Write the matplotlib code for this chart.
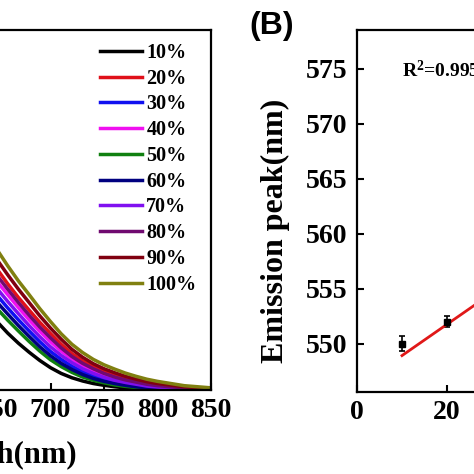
import numpy as np
import matplotlib
matplotlib.use("Agg")
import matplotlib.pyplot as plt

plt.rcParams["font.family"] = ["Liberation Serif", "DejaVu Serif"]
plt.rcParams["font.weight"] = "bold"
plt.rcParams["mathtext.fontset"] = "custom"
plt.rcParams["mathtext.rm"] = "Liberation Serif:bold"
plt.rcParams["mathtext.bf"] = "Liberation Serif:bold"
plt.rcParams["mathtext.default"] = "bf"

# ── (A) emission spectra, normalised intensity vs wavelength ──
wavelength = [640, 650, 660, 670, 680, 690, 700, 710, 720, 730, 740,
              750, 760, 770, 780, 790, 800, 825, 850]
labels = ["10%", "20%", "30%", "40%", "50%", "60%", "70%", "80%", "90%", "100%"]
colors = ["#000000", "#e0101a", "#1010f0", "#f010f0", "#108010",
          "#000080", "#8010f0", "#700a70", "#800010", "#808010"]
spectra = {
    "10%":  [.225, .190, .158, .130, .105, .082, .062, .046, .034, .025, .018,
             .013, .009, .006, .004, .002, .001, .000, .000],
    "20%":  [.380, .336, .295, .257, .222, .188, .157, .127, .101, .081, .065,
             .052, .042, .033, .026, .020, .015, .007, .003],
    "30%":  [.300, .263, .228, .195, .164, .134, .107, .085, .066, .051, .039,
             .029, .022, .016, .012, .008, .006, .002, .001],
    "40%":  [.340, .301, .265, .229, .195, .163, .134, .108, .086, .068, .053,
             .041, .032, .025, .019, .014, .010, .004, .002],
    "50%":  [.260, .226, .194, .164, .135, .108, .084, .065, .049, .036, .027,
             .020, .014, .010, .007, .005, .003, .001, .000],
    "60%":  [.280, .244, .211, .179, .149, .120, .095, .074, .057, .043, .032,
             .024, .018, .013, .009, .006, .004, .001, .000],
    "70%":  [.320, .282, .246, .212, .179, .148, .120, .096, .076, .059, .046,
             .035, .027, .021, .016, .011, .008, .003, .001],
    "80%":  [.360, .318, .280, .243, .208, .175, .145, .117, .093, .074, .059,
             .046, .036, .028, .022, .016, .012, .006, .002],
    "90%":  [.410, .362, .320, .280, .243, .206, .172, .141, .113, .091, .073,
             .059, .048, .038, .030, .023, .018, .009, .004],
    "100%": [.440, .390, .345, .303, .265, .226, .190, .156, .127, .104, .085,
             .070, .058, .047, .038, .030, .024, .012, .006],
}

# ── (B) emission peak vs concentration ──
conc = [10, 20, 30, 40, 50, 60, 70, 80, 90, 100]
peak = [550.0, 552.0, 554.0, 557.0, 559.5, 563.0, 566.0, 568.5, 571.5, 575.5]
peak_err = [0.7, 0.5, 0.6, 0.5, 0.6, 0.5, 0.6, 0.5, 0.6, 0.5]

W = H = 474.0
fig = plt.figure(figsize=(4.74, 4.74), dpi=100)


def px_box(left, right, top, bottom):
    return [left / W, 1 - bottom / H, (right - left) / W, (bottom - top) / H]


def style_axes(ax):
    for s in ax.spines.values():
        s.set_linewidth(1.6)
    ax.tick_params(direction="in", length=5, width=1.5, labelsize=20, pad=6)
    for t in ax.get_xticklabels() + ax.get_yticklabels():
        t.set_fontweight("bold")


# left panel: only its right part is on the canvas
ax1 = fig.add_axes(px_box(-217, 211, 30, 390))
for lab, col in zip(labels, colors):
    ax1.plot(wavelength, spectra[lab], color=col, lw=2.5, label=lab)
ax1.set_xlim(450, 850)
ax1.set_ylim(0, 1)
ax1.set_xticks([450, 500, 550, 600, 650, 700, 750, 800, 850])
ax1.set_yticks([])
style_axes(ax1)
ax1.set_xlabel("Wavelength(nm)", fontsize=22, fontweight="bold")
ax1.xaxis.label.set_ha("right")
ax1.xaxis.set_label_coords((77 + 217) / 428, -0.142)
ax1.legend(loc="upper left", bbox_to_anchor=(100 / W, 1 - 43 / H),
           bbox_transform=fig.transFigure, frameon=False, borderpad=0,
           borderaxespad=0, handlelength=2.1, handletextpad=0.2,
           labelspacing=0.285, prop={"size": 14.5, "weight": "bold"})

# right panel: only its left part is on the canvas
ax2 = fig.add_axes(px_box(357, 357 + 495, 30, 392))
ax2.errorbar(conc, peak, yerr=peak_err, fmt="s", color="black", ms=5,
             capsize=2.5, elinewidth=1.2, capthick=1.2)
slope, intercept = np.polyfit(conc, peak, 1)
fit_x = np.array([conc[0], conc[-1]])
ax2.plot(fit_x, slope * fit_x + intercept, color="#e01818", lw=2)
ss_res = np.sum((np.array(peak) - (slope * np.array(conc) + intercept)) ** 2)
ss_tot = np.sum((np.array(peak) - np.mean(peak)) ** 2)
ax2.text(0.09, 0.889, "R$^2$=%.3f" % (1 - ss_res / ss_tot), transform=ax2.transAxes,
         fontsize=14, fontweight="bold", va="center", ha="left")
ax2.set_xlim(0, 110)
ax2.set_ylim(545.6, 578.5)
ax2.set_xticks([0, 20, 40, 60, 80, 100])
ax2.set_yticks([550, 555, 560, 565, 570, 575])
style_axes(ax2)
ax2.tick_params(axis="y", pad=7)
ax2.set_ylabel("Emission peak(nm)", fontsize=23, fontweight="bold")
ax2.yaxis.set_label_coords((290 - 357) / 495, (392 - 231) / 362)

fig.text(249 / W, 1 - 26 / H, "(B)", fontsize=23, fontweight="bold",
         family=["Liberation Sans", "DejaVu Sans"], ha="left", va="center")

fig.savefig("out.png", dpi=100)
